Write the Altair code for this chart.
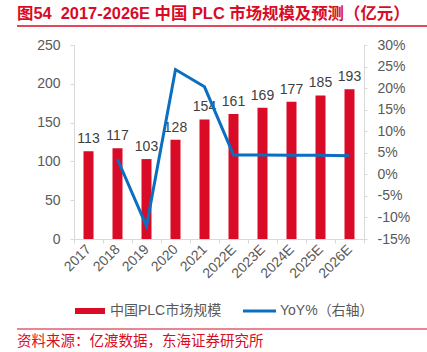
import altair as alt
import pandas as pd

years = ["2017", "2018", "2019", "2020", "2021", "2022E", "2023E", "2024E", "2025E", "2026E"]
market = [113, 117, 103, 128, 154, 161, 169, 177, 185, 193]
yoy_years = ["2018", "2019", "2020", "2021", "2022E", "2023E", "2024E", "2025E", "2026E"]
yoy = [3.5, -12.0, 24.3, 20.3, 4.5, 4.5, 4.4, 4.4, 4.3]

title_text = "图54\u00a0\u00a02017-2026E 中国 PLC 市场规模及预测（亿元）"
legend_bar = "中国PLC市场规模"
legend_line = "YoY%（右轴）"
source_text = "资料来源：亿渡数据，东海证券研究所"

RED = "#D90B26"
BLUE = "#0A6FC1"
GRAY = "#595959"
AXIS = "#D9D9D9"
FONT = "Liberation Sans, Noto Sans CJK SC"

df = pd.DataFrame({"year": years, "value": market})
dy = pd.DataFrame({"year": yoy_years, "yoy": yoy})

x_axis = alt.Axis(labelAngle=-45, labelAlign="right", labelBaseline="middle",
                  labelColor=GRAY, labelFontSize=14, labelFont=FONT,
                  domainColor=AXIS, tickColor=AXIS, tickSize=4,
                  tickBand="extent", labelPadding=4, labelOverlap=False)
x_scale = alt.Scale(paddingInner=0, paddingOuter=0)
y_axis = alt.Axis(values=[0, 50, 100, 150, 200, 250], grid=False, labelOverlap=False,
                  labelColor=GRAY, labelFontSize=14, labelFont=FONT,
                  domainColor=AXIS, tickColor=AXIS, tickSize=4, labelPadding=10)
y_scale = alt.Scale(domain=[0, 250])

def X():
    return alt.X("year:N", sort=years, title=None, scale=x_scale, axis=x_axis)

bars = alt.Chart(df).mark_bar(color=RED, size=10).encode(
    x=X(),
    y=alt.Y("value:Q", title=None, scale=y_scale, axis=y_axis),
)
labels = alt.Chart(df).mark_text(baseline="bottom", dy=-5, fontSize=14, color="#404040", font=FONT).encode(
    x=X(),
    y=alt.Y("value:Q", title=None, scale=y_scale, axis=y_axis),
    text="value:Q",
)
left = alt.layer(bars, labels)

line = alt.Chart(dy).mark_line(color=BLUE, strokeWidth=3).encode(
    x=X(),
    y=alt.Y("yoy:Q", title=None, scale=alt.Scale(domain=[-15, 30]),
            axis=alt.Axis(orient="right", values=list(range(-15, 31, 5)), grid=False, labelOverlap=False,
                          labelExpr="datum.value + '%'",
                          labelColor=GRAY, labelFontSize=14, labelFont=FONT,
                          domainColor=AXIS, tickColor=AXIS, tickSize=3, labelPadding=10)),
)

one = pd.DataFrame({"a": [0]})
deco = []
deco.append(alt.Chart(one).mark_text(align="left", baseline="middle", fontSize=16.4, fontWeight="bold",
                                     color=RED, font=FONT).encode(
    x=alt.value(-57), y=alt.value(-31), text=alt.value(title_text)))
deco.append(alt.Chart(one).mark_rule(color=RED, strokeWidth=1.5).encode(
    x=alt.value(-57), x2=alt.value(353), y=alt.value(-19)))
deco.append(alt.Chart(one).mark_rect(color=RED).encode(
    x=alt.value(1), x2=alt.value(31), y=alt.value(263), y2=alt.value(269)))
deco.append(alt.Chart(one).mark_text(align="left", baseline="middle", fontSize=14, color=GRAY, font=FONT).encode(
    x=alt.value(36), y=alt.value(266), text=alt.value(legend_bar)))
deco.append(alt.Chart(one).mark_rule(color=BLUE, strokeWidth=3).encode(
    x=alt.value(169), x2=alt.value(202), y=alt.value(266)))
deco.append(alt.Chart(one).mark_text(align="left", baseline="middle", fontSize=14, color=GRAY, font=FONT).encode(
    x=alt.value(206), y=alt.value(266), text=alt.value(legend_line)))
deco.append(alt.Chart(one).mark_rule(color=RED, strokeWidth=1).encode(
    x=alt.value(-57), x2=alt.value(353), y=alt.value(284)))
deco.append(alt.Chart(one).mark_text(align="left", baseline="middle", fontSize=14.5, color=RED, font=FONT).encode(
    x=alt.value(-57), y=alt.value(297), text=alt.value(source_text)))

chart = alt.layer(left, line, *deco).resolve_scale(y="independent").properties(
    width=290, height=194,
    padding={"left": 74, "top": 45, "right": 63, "bottom": 113},
    autosize=alt.AutoSizeParams(type="none"),
    background="white",
).configure_view(stroke=None)

chart.save("out.html", embed_options={"renderer": "svg", "actions": False})
